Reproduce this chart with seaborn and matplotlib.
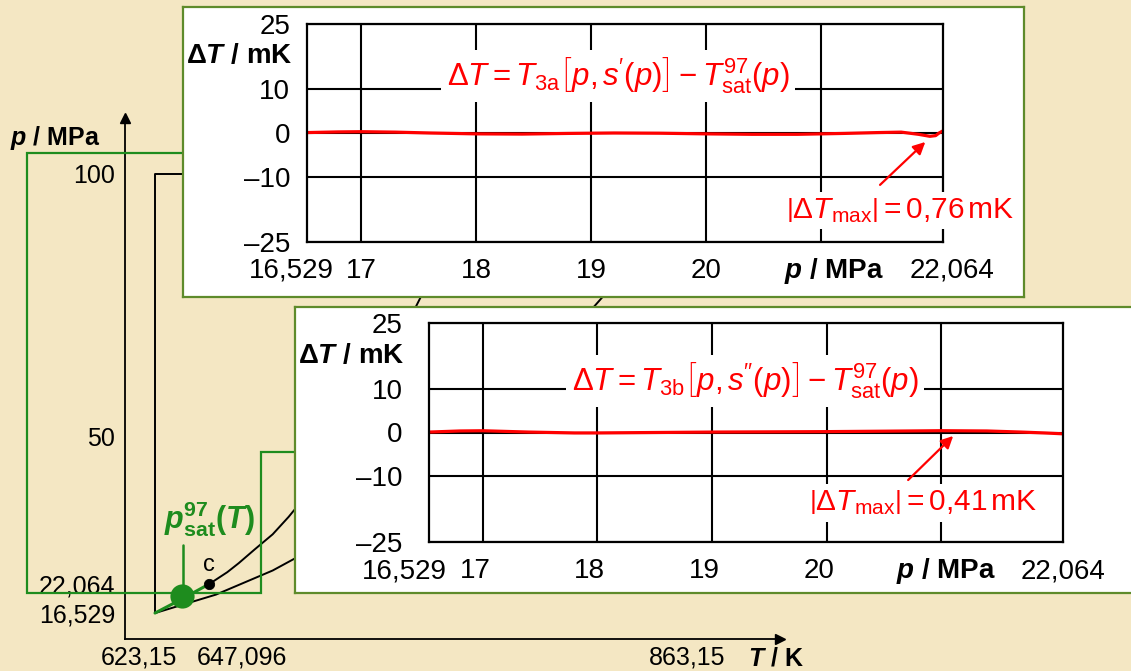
import numpy as np
import pandas as pd
import matplotlib
matplotlib.use("Agg")
import matplotlib.pyplot as plt
import seaborn as sns

# ---------------- data ----------------
# main p-T sketch (T in K, p in MPa)
sat_T = [623.15, 635.0, 647.096]
sat_p = [16.529, 19.2, 22.064]
b23_T = [623.15, 650, 675, 700, 725, 750, 775, 800, 825, 850, 863.15]
b23_p = [16.529, 20.035, 24.618, 30.478, 37.610, 46.018, 55.699, 66.653, 78.883, 92.386, 100.0]
ab_T = [647.096, 655, 660, 667, 675, 682, 690, 697, 705, 712, 720, 730, 740, 757, 765]
ab_p = [22.064, 24.3, 26.0, 28.6, 31.5, 34.8, 39.0, 43.5, 48.5, 53.8, 59.5, 67.8, 76.4, 92.0, 100.0]
bound_T = [623.15, 623.15, 863.15]
bound_p = [16.529, 100.0, 100.0]
crit_T = [647.096]
crit_p = [22.064]
dot_T = [635.0]
dot_p = [19.8]
main_xticks = [623.15, 647.096, 863.15]
main_xlabels = ["623,15", "647,096", "863,15"]
main_yticks = [16.529, 22.064, 50, 100]
main_ylabels = ["16,529", "22,064", "50", "100"]

# panel a: T3a[p, s'(p)] - Tsat97(p)
p_a = [16.529, 16.8, 17.0, 17.3, 17.6, 18.0, 18.4, 18.8, 19.2, 19.6, 20.0,
       20.4, 20.8, 21.2, 21.5, 21.7, 21.85, 21.95, 22.0, 22.03, 22.064]
dT_a = [0.1, 0.25, 0.3, 0.2, 0.0, -0.2, -0.25, -0.1, 0.0, -0.05, -0.2,
        -0.3, -0.3, -0.1, 0.1, 0.2, -0.3, -0.76, -0.6, 0.0, 0.5]
# panel b: T3b[p, s''(p)] - Tsat97(p)
p_b = [16.529, 16.8, 17.0, 17.4, 17.8, 18.0, 18.5, 19.0, 19.5, 20.0, 20.5,
       21.0, 21.4, 21.7, 21.9, 22.064]
dT_b = [0.1, 0.35, 0.4, 0.1, -0.1, -0.1, 0.0, 0.1, 0.15, 0.2, 0.3,
        0.41, 0.35, 0.1, -0.1, -0.3]
panel_yticks = [-25, -10, 0, 10, 25]
panel_ylabels = ["\u201325", "\u201310", "0", "10", "25"]
panel_grid_x = [17, 18, 19, 20, 21]
panel_xlabels = ["17", "18", "19", "20"]

# ---------------- style ----------------
sns.set_style("white")
plt.rcParams["font.family"] = ["Liberation Sans", "DejaVu Sans"]
plt.rcParams["mathtext.fontset"] = "custom"
plt.rcParams["mathtext.rm"] = "Liberation Sans"
plt.rcParams["mathtext.it"] = "Liberation Sans:italic"
plt.rcParams["mathtext.bf"] = "Liberation Sans:bold"
plt.rcParams["mathtext.bfit"] = "Liberation Sans:italic:bold"
plt.rcParams["mathtext.sf"] = "Liberation Sans"
for k in ["text.color", "xtick.color", "ytick.color", "axes.labelcolor"]:
    plt.rcParams[k] = "black"

BG = "#F4E7C3"
RED = "#FF0000"
GREEN = "#1E8C1E"
BOXGREEN = "#5E8B2B"
W, H = 1131, 671

fig = plt.figure(figsize=(W / 100, H / 100), dpi=100, facecolor=BG)


def rect(x0, y0, x1, y1):
    return [x0 / W, 1 - y1 / H, (x1 - x0) / W, (y1 - y0) / H]


# ---------------- main p-T sketch ----------------
ax0 = fig.add_axes(rect(125, 118, 780, 639), zorder=0)
ax0.set_facecolor("none")
ax0.set_xlim(609.93, 898.48)
ax0.set_ylim(11.6, 110.6)
for s in ["top", "right"]:
    ax0.spines[s].set_visible(False)
for s in ["left", "bottom"]:
    ax0.spines[s].set_color("black")
    ax0.spines[s].set_linewidth(1.3)
ax0.plot([1], [0], marker=">", color="black", ms=7, transform=ax0.transAxes, clip_on=False)
ax0.plot([0], [1], marker="^", color="black", ms=7, transform=ax0.transAxes, clip_on=False)

sns.lineplot(x=bound_T, y=bound_p, ax=ax0, color="black", lw=1.4, sort=False, estimator=None)
sns.lineplot(x=b23_T, y=b23_p, ax=ax0, color="black", lw=1.4, sort=False, estimator=None)
sns.lineplot(x=ab_T, y=ab_p, ax=ax0, color="black", lw=1.4, sort=False, estimator=None)
sns.lineplot(x=sat_T, y=sat_p, ax=ax0, color=GREEN, lw=2.2, sort=False, estimator=None)
sns.scatterplot(x=dot_T, y=dot_p, ax=ax0, color=GREEN, s=260, edgecolor=GREEN, zorder=5)
sns.scatterplot(x=crit_T, y=crit_p, ax=ax0, color="black", s=55, edgecolor="black", zorder=5)

ax0.set_xticks(main_xticks)
ax0.set_xticklabels([])
ax0.tick_params(axis="x", direction="in", length=6, width=1.2, color="black")
ax0.set_yticks(main_yticks, main_ylabels)
ax0.tick_params(axis="y", direction="out", length=6, width=1.2, pad=1,
                labelsize=18, color="black")
ax0.set_xlabel("")
ax0.set_ylabel("")
for T, lab, dx in zip(main_xticks, main_xlabels, [-16, 33, -13]):
    ax0.annotate(lab, xy=(T, 0), xycoords=("data", "axes fraction"),
                 xytext=(dx, -19), textcoords="offset pixels",
                 ha="center", va="center", fontsize=18)
ax0.annotate(r"$\mathbfit{T}$ / K", xy=(863.15, 0), xycoords=("data", "axes fraction"),
             xytext=(76, -19), textcoords="offset pixels",
             ha="center", va="center", fontsize=18, fontweight="bold")
fig.text(10 / W, 1 - 138 / H, r"$\mathbfit{p}$ / MPa", ha="left", va="center",
         fontsize=18, fontweight="bold")
ax0.annotate("c", xy=(crit_T[0], crit_p[0]), xytext=(0, 19), textcoords="offset pixels",
             ha="center", va="center", fontsize=17)
ax0.plot([635.5, 635.5], [21.3, 29.5], color=GREEN, lw=1.8)
ax0.text(647.2, 34.3,
         r"$\mathbfit{p}_{\mathbf{sat}}^{\mathbf{97}}\mathbf{(}\mathbfit{T}\mathbf{)}$",
         color=GREEN, fontsize=22, ha="center", va="center")

# ---------------- green connectors (figure pixel overlay) ----------------
axc = fig.add_axes([0, 0, 1, 1], zorder=1)
axc.set_xlim(0, W)
axc.set_ylim(H, 0)
axc.axis("off")
axc.set_facecolor("none")
axc.plot([183, 27, 27, 261, 261, 295], [153, 153, 593, 593, 452, 452],
         color=GREEN, lw=1.6, solid_joinstyle="miter")


def panel_box(x0, y0, x1, y1, z):
    b = fig.add_axes(rect(x0, y0, x1, y1), zorder=z)
    b.set_facecolor("white")
    b.set_xticks([])
    b.set_yticks([])
    for s in b.spines.values():
        s.set_color(BOXGREEN)
        s.set_linewidth(1.6)
    return b


def panel(box_px, ax_px, z, p, dT, formula, fpos, ann, apos, atail, atip,
          ypad, xoffs, ylab_px):
    panel_box(*box_px, z)
    ax = fig.add_axes(rect(*ax_px), zorder=z + 1)
    ax.set_facecolor("none")
    ax.set_xlim(16.529, 22.064)
    ax.set_ylim(-25, 25)
    ax.set_xticks(panel_grid_x)
    ax.set_xticklabels([])
    ax.set_yticks(panel_yticks, panel_ylabels)
    ax.tick_params(axis="both", length=0)
    ax.tick_params(axis="y", labelsize=20, pad=ypad)
    ax.grid(True, color="black", lw=1.5)
    for s in ax.spines.values():
        s.set_visible(True)
        s.set_color("black")
        s.set_linewidth(1.6)
    sns.lineplot(x=p, y=dT, ax=ax, color=RED, lw=2.3, sort=False, estimator=None)
    ax.set_xlabel("")
    ax.set_ylabel("")
    labs = [(16.529, "16,529", xoffs[0])]
    labs += [(g, l, xoffs[1]) for g, l in zip(panel_grid_x[:4], panel_xlabels)]
    labs += [(22.064, "22,064", xoffs[3])]
    for x, l, dx in labs:
        ax.annotate(l, xy=(x, 0), xycoords=("data", "axes fraction"),
                    xytext=(dx, -29), textcoords="offset pixels",
                    ha="center", va="center", fontsize=20)
    ax.annotate(r"$\mathbfit{p}$ / MPa", xy=(21, 0), xycoords=("data", "axes fraction"),
                xytext=(xoffs[2], -29), textcoords="offset pixels",
                ha="center", va="center", fontsize=20, fontweight="bold")
    fig.text(ylab_px[0] / W, 1 - ylab_px[1] / H, r"Δ$\mathbfit{T}$ / mK",
             ha="right", va="center", fontsize=20, fontweight="bold", zorder=z + 2)
    ax.text(fpos[0], fpos[1], formula, color=RED, fontsize=22.5, ha="center", va="center",
            bbox=dict(facecolor="white", edgecolor="none", pad=4), zorder=6)
    ax.annotate("", xy=atip, xytext=atail,
                arrowprops=dict(arrowstyle="-|>", color=RED, lw=1.6, mutation_scale=18,
                                shrinkA=0, shrinkB=0), zorder=6)
    ax.text(apos[0], apos[1], ann, color=RED, fontsize=21.5, ha="center", va="center",
            bbox=dict(facecolor="white", edgecolor="none", pad=3), zorder=6)
    return ax


panel((183, 7, 1024, 297), (307, 24, 943, 242), 2, p_a, dT_a,
      r"$\Delta T = T_{\mathrm{3a}}\left[p,s\mathrm{'}(p)\right]-T_{\mathrm{sat}}^{97}(p)$",
      (19.236, 13.1),
      r"$\left|\Delta T_{\mathrm{max}}\right| = 0{,}76\,\mathrm{mK}$", (21.69, -17.7),
      (21.516, -11.9), (21.91, -2.06), 12, (-16, 0, 13, 9), (292, 56))

panel((295, 307, 1140, 593), (429, 323, 1063, 542), 4, p_b, dT_b,
      r"$\Delta T = T_{\mathrm{3b}}\left[p,s\mathrm{''}(p)\right]-T_{\mathrm{sat}}^{97}(p)$",
      (19.289, 11.8),
      r"$\left|\Delta T_{\mathrm{max}}\right| = 0{,}41\,\mathrm{mK}$", (20.843, -16.1),
      (20.712, -10.85), (21.105, -0.8), 19, (-25, -8, 5, 0), (404, 356))

fig.savefig("out.png", dpi=100, facecolor=BG)
